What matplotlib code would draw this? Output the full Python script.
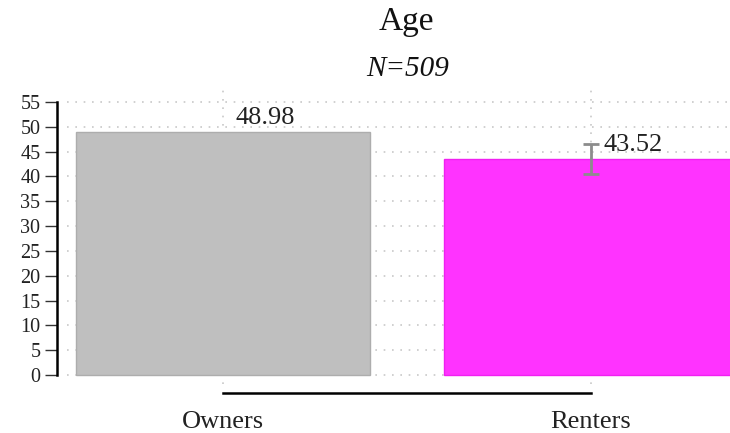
import matplotlib
matplotlib.use("Agg")
import matplotlib.pyplot as plt
import numpy as np

categories = ["Owners", "Renters"]
values = [48.98, 43.52]
errors = [0.0, 3.0]
bar_colors = ["#BFBFBF", "#FF33FF"]
edge_colors = ["#ADADAD", "#F020F0"]
yticks = list(range(0, 60, 5))
title = "Age"
subtitle = "N=509"

plt.rcParams['font.family'] = ['Liberation Serif', 'DejaVu Serif']

fig = plt.figure(figsize=(7.30, 4.33), dpi=100)
W, H = 730, 433
ax_left, ax_right, ax_top, ax_bottom = 67, 730, 87, 384
ax = fig.add_axes([ax_left / W, 1 - ax_bottom / H, (ax_right - ax_left) / W, (ax_bottom - ax_top) / H])

x = np.arange(len(categories))
ax.bar(x, values, width=0.8, color=bar_colors, edgecolor=edge_colors, linewidth=1, zorder=2)
ax.errorbar(x[1:], values[1:], yerr=errors[1:], fmt='none', ecolor='#8C8C8C',
            elinewidth=2, capsize=5.5, capthick=2, zorder=3)

for xi, v in zip(x, values):
    ax.annotate(f"{v:.2f}", xy=(xi, v), xytext=(9, 5.5), textcoords='offset points',
                ha='left', va='baseline', fontsize=19, color='#222222', zorder=4)

ax.set_xlim(-0.424, 1.378)
ax.set_ylim(-1.81, 58.02)

ax.set_yticks(yticks)
ax.set_yticklabels([str(t) for t in yticks])
ax.set_xticks(x)
ax.set_xticklabels(categories)

ax.tick_params(axis='y', direction='out', length=8.5, width=1, pad=3.5, color='#333333',
               labelsize=14.5, labelcolor='#222222')
ax.tick_params(axis='x', length=0, pad=13, labelsize=19, labelcolor='#222222')

for s in ['top', 'right']:
    ax.spines[s].set_visible(False)
ax.spines['left'].set_position(('outward', 7.2))
ax.spines['left'].set_bounds(0, 55)
ax.spines['left'].set_linewidth(1.8)
ax.spines['bottom'].set_position(('outward', 6.5))
ax.spines['bottom'].set_bounds(0, 1)
ax.spines['bottom'].set_linewidth(1.8)

ax.grid(True, axis='both', linestyle=(0, (1, 4)), color='#C8C8C8', linewidth=1.2, zorder=0)
ax.set_axisbelow(True)

fig.text(406 / W, 1 - 22 / H, title, ha='center', va='center', fontsize=24, color='#111111')
fig.text(408 / W, 1 - 69 / H, subtitle, ha='center', va='center', fontsize=21,
         color='#111111', style='italic')

fig.savefig("out.png", dpi=100)
